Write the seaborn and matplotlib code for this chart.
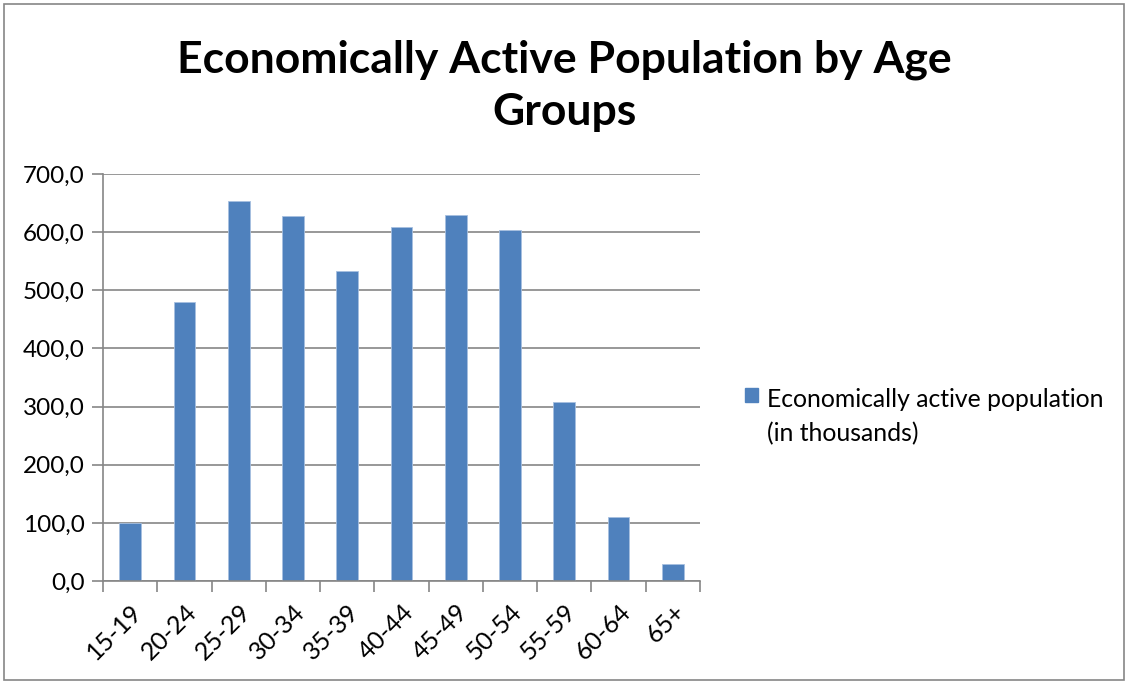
import matplotlib
matplotlib.use("Agg")
import matplotlib.pyplot as plt
import seaborn as sns
from matplotlib.patches import Patch, Rectangle
from matplotlib.ticker import FuncFormatter, FixedLocator

age_groups = ["15-19", "20-24", "25-29", "30-34", "35-39", "40-44",
              "45-49", "50-54", "55-59", "60-64", "65+"]
active_pop = [100.0, 479.0, 653.0, 627.0, 533.0, 609.0,
              630.0, 604.0, 308.0, 110.0, 30.0]
series_label = "Economically active population\n(in thousands)"
title = "Economically Active Population by Age\nGroups"

sns.set_style("white")
plt.rcParams["font.family"] = ["Lato", "DejaVu Sans"]
plt.rcParams["text.color"] = "black"

bar_color = "#4F81BD"
grid_color = "#868686"

fig = plt.figure(figsize=(11.28, 6.84), dpi=100)
ax = fig.add_axes([103 / 1128, 1 - 581 / 684, (700 - 103) / 1128, (581 - 174) / 684])

sns.barplot(x=age_groups, y=active_pop, color=bar_color, width=0.4,
            saturation=1, ax=ax, edgecolor="#A7C0E0", linewidth=0.6)

ax.set_ylim(0, 700)
ax.set_xlim(-0.5, len(age_groups) - 0.5)
ax.set_yticks(range(0, 701, 100))
ax.yaxis.set_major_formatter(FuncFormatter(lambda v, p: f"{v:.1f}".replace(".", ",")))
ax.grid(axis="y", color=grid_color, linewidth=1.2)
ax.set_axisbelow(True)

for s in ["top", "right"]:
    ax.spines[s].set_visible(False)
for s in ["left", "bottom"]:
    ax.spines[s].set_color(grid_color)
    ax.spines[s].set_linewidth(1.2)

ax.tick_params(axis="y", which="major", left=True, length=8, width=1.2,
               color=grid_color, labelsize=17.5, pad=5, labelcolor="black")
# x ticks sit between categories
ax.xaxis.set_minor_locator(FixedLocator([i - 0.5 for i in range(len(age_groups) + 1)]))
ax.tick_params(axis="x", which="minor", bottom=True, length=8, width=1.2, color=grid_color)
ax.tick_params(axis="x", which="major", bottom=False, labelsize=18, pad=10, labelcolor="black")
plt.setp(ax.get_xticklabels(), rotation=45, ha="right", rotation_mode="anchor")
ax.set_xlabel("")
ax.set_ylabel("")

fig.text(0.5, 1 - 86 / 684, title, ha="center", va="center",
         fontsize=32, fontweight="bold", linespacing=1.35, color="black")

handle = Patch(facecolor=bar_color, edgecolor=bar_color)
leg = fig.legend(handles=[handle], labels=[series_label], loc="upper left",
                 bbox_to_anchor=(728 / 1128, 1 - 371 / 684), frameon=False,
                 fontsize=17.8, handlelength=0.5, handleheight=0.5,
                 handletextpad=0.38, borderpad=0.2)
for t in leg.get_texts():
    t.set_linespacing(1.55)
# keep the marker level with the first line of the label, as in the original
for col in leg._legend_handle_box.get_children():
    for item in col.get_children():
        item.align = "top"

fig.patches.append(Rectangle((4 / 1128, 4 / 684), 1120 / 1128, 676 / 684,
                             transform=fig.transFigure, fill=False,
                             edgecolor=grid_color, linewidth=1.2))

fig.savefig("out.png", dpi=100)
